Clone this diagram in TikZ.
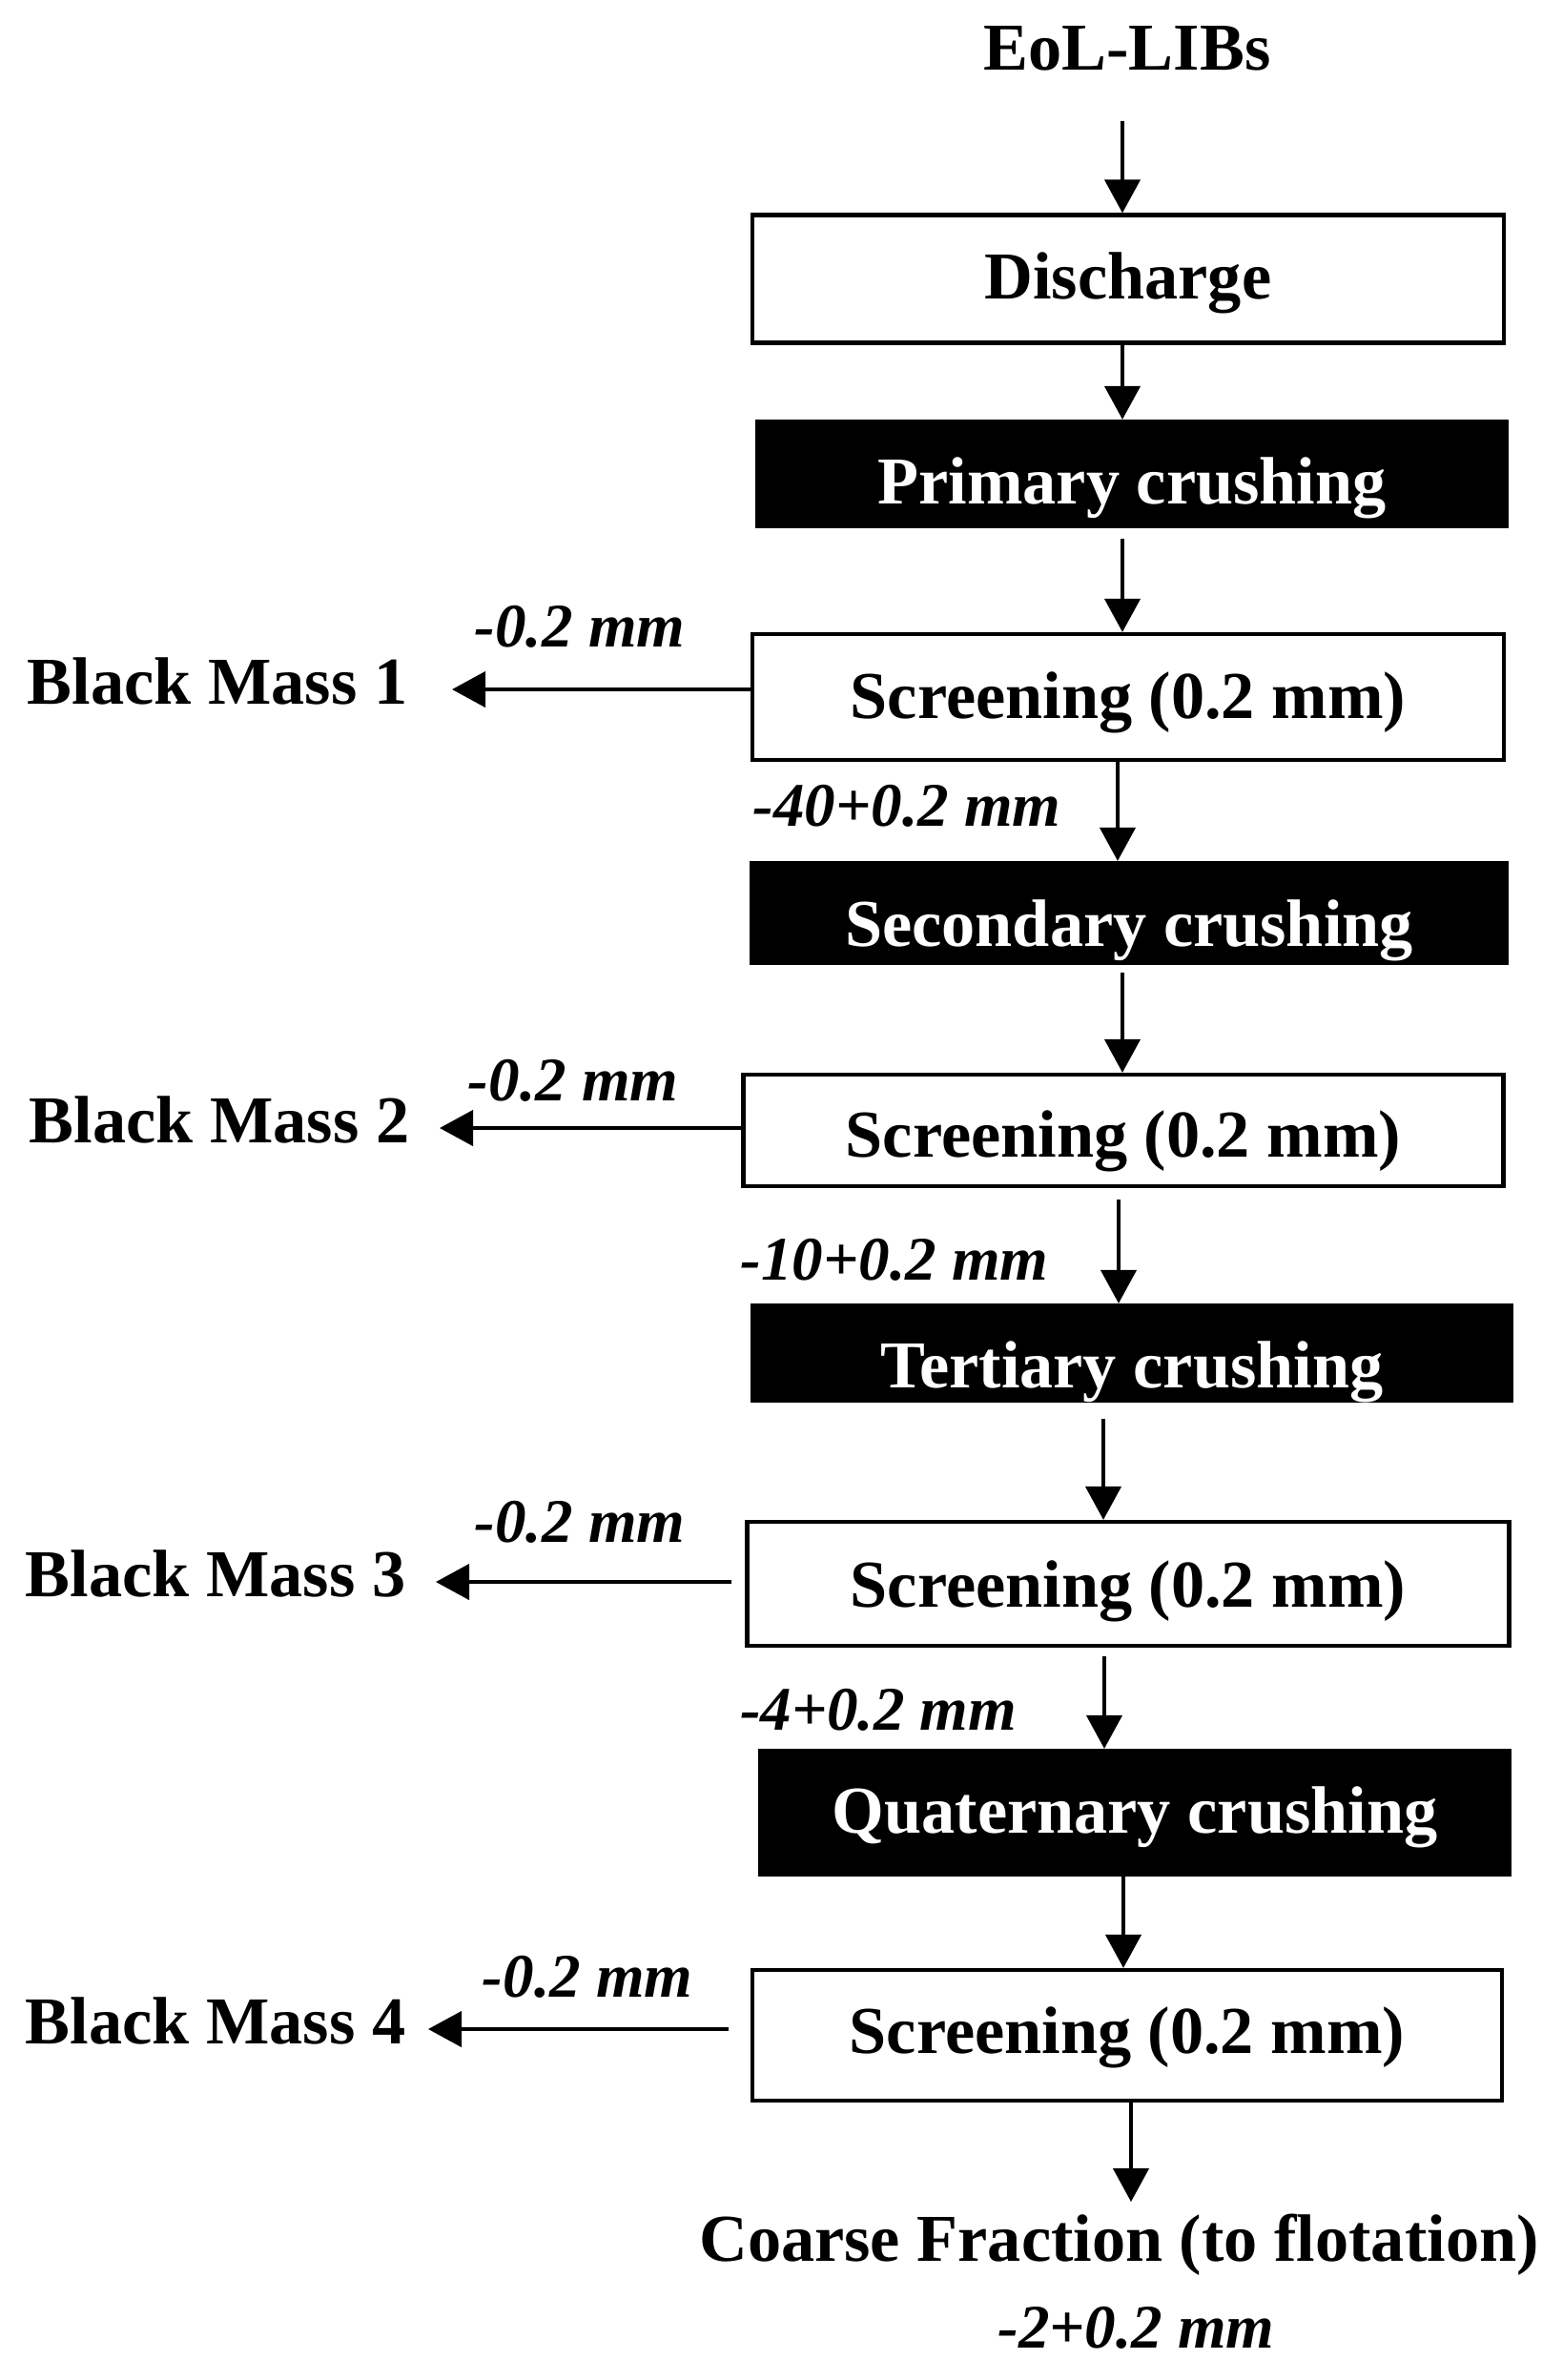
\documentclass[tikz,border=0pt]{standalone}
\usepackage{fontspec}
\setmainfont{Liberation Serif}
\usepackage{tikz}
\usetikzlibrary{arrows.meta,positioning,calc}

\begin{document}
\begin{tikzpicture}[
  every node/.style={font=\fontsize{20pt}{24pt}\selectfont\bfseries},
  box/.style={draw=black, line width=1.2pt, fill=white, minimum width=7.88cm,
              minimum height=1.3cm, inner sep=0pt, text height=0.44cm, text depth=0pt},
  crushbox/.style={draw=black, line width=1.2pt, fill=black, text=white,
              minimum width=7.88cm, minimum height=1.1cm, inner sep=0pt,
              text height=0.66cm, text depth=0pt},
  sizelab/.style={font=\fontsize{18.5pt}{22pt}\selectfont\bfseries\itshape, inner sep=0pt},
  massnode/.style={anchor=east, inner sep=0pt, text height=0.30cm, text depth=0pt},
  arr/.style={-{Triangle[length=3.5mm, width=3.7mm]}, line width=1.2pt, black},
]
\useasboundingbox (0,0) rectangle (16.39,-24.96);

% Feed and discharge
\node (eol) at (11.82, -0.51) {EoL-LIBs};
\node[box, minimum height=1.34cm, text height=0.42cm] (disch) at (11.83, -2.925) {Discharge};

% Crushing and screening stages
\node[crushbox, minimum width=7.86cm, minimum height=1.10cm, text height=0.62cm] (prim) at (11.87, -4.97) {Primary crushing};
\node[box, minimum height=1.32cm] (scr1) at (11.83, -7.31) {Screening (0.2 mm)};
\node[crushbox, minimum width=7.92cm, minimum height=1.05cm, text height=0.69cm] (sec) at (11.84, -9.575) {Secondary crushing};
\node[box, minimum width=7.97cm, minimum height=1.17cm, text height=0.55cm] (scr2) at (11.78, -11.855) {Screening (0.2 mm)};
\node[crushbox, minimum width=7.96cm, minimum height=1.00cm, text height=0.72cm] (ter) at (11.87, -14.19) {Tertiary crushing};
\node[box, minimum width=7.99cm, minimum height=1.30cm, text height=0.48cm] (scr3) at (11.83, -16.61) {Screening (0.2 mm)};
\node[crushbox, minimum width=7.86cm, minimum height=1.30cm, text height=0.42cm] (quat) at (11.90, -19.01) {Quaternary crushing};
\node[box, minimum width=7.86cm, minimum height=1.37cm, text height=0.37cm] (scr4) at (11.82, -21.345) {Screening (0.2 mm)};

% Products
\node[anchor=base] (coarse) at (11.735, -23.71) {Coarse Fraction (to flotation)};
\node[massnode] (bm1) at (4.28, -7.23) {Black Mass 1};
\node[massnode] (bm2) at (4.30, -11.83) {Black Mass 2};
\node[massnode] (bm3) at (4.26, -16.59) {Black Mass 3};
\node[massnode] (bm4) at (4.26, -21.28) {Black Mass 4};

% Size fractions
\node[sizelab] (s1) at (6.08, -6.57) {-0.2 mm};
\node[sizelab] (s2) at (6.01, -11.33) {-0.2 mm};
\node[sizelab] (s3) at (6.08, -15.96) {-0.2 mm};
\node[sizelab] (s4) at (6.16, -20.73) {-0.2 mm};
\node[sizelab] (f1) at (9.51, -8.45) {-40+0.2 mm};
\node[sizelab] (f2) at (9.38, -13.21) {-10+0.2 mm};
\node[sizelab] (f3) at (9.21, -17.93) {-4+0.2 mm};
\node[sizelab] (f4) at (11.915, -24.41) {-2+0.2 mm};

% Main line
\draw[arr, shorten <=4mm] ([xshift=-0.5mm]eol.south) -- ([xshift=-0.5mm]eol.south |- disch.north);
\draw[arr] ([xshift=-0.6mm]disch.south) -- ([xshift=-0.6mm]disch.south |- prim.north);
\draw[arr, shorten <=1.1mm] ([xshift=-1mm]prim.south) -- ([xshift=-1mm]prim.south |- scr1.north);
\draw[arr] ([xshift=-1.1mm]scr1.south) -- ([xshift=-1.1mm]scr1.south |- sec.north);
\draw[arr, shorten <=0.8mm] ([xshift=-0.7mm]sec.south) -- ([xshift=-0.7mm]sec.south |- scr2.north);
\draw[arr, shorten <=1.2mm] ([xshift=-0.5mm]scr2.south) -- ([xshift=-0.5mm]scr2.south |- ter.north);
\draw[arr, shorten <=1.7mm] ([xshift=-3mm]ter.south) -- ([xshift=-3mm]ter.south |- scr3.north);
\draw[arr, shorten <=0.9mm] ([xshift=-2.5mm]scr3.south) -- ([xshift=-2.5mm]scr3.south |- quat.north);
\draw[arr] ([xshift=-1.2mm]quat.south) -- ([xshift=-1.2mm]quat.south |- scr4.north);
\draw[arr] ([xshift=0.4mm]scr4.south) -- ([xshift=0.4mm]scr4.south |- coarse.north);

% Undersize to black mass
\draw[arr, shorten >=4.6mm] (scr1.west |- bm1.east) -- (bm1.east);
\draw[arr, shorten >=3.1mm] (scr2.west |- bm2.east) -- (bm2.east);
\draw[arr, shorten <=1.4mm, shorten >=3.1mm] (scr3.west |- bm3.east) -- (bm3.east);
\draw[arr, shorten <=2.3mm, shorten >=2.3mm] (scr4.west |- bm4.east) -- (bm4.east);

\end{tikzpicture}
\end{document}
